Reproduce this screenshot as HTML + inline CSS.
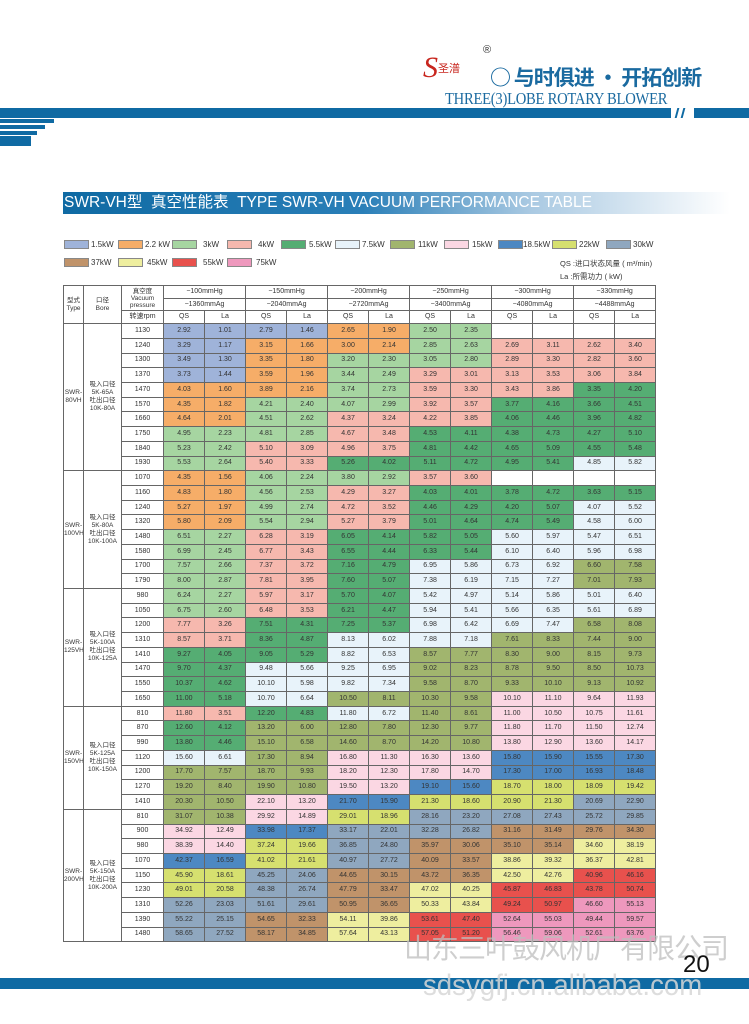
<!DOCTYPE html>
<html><head><meta charset="utf-8">
<style>
*{margin:0;padding:0;box-sizing:border-box}
body{width:749px;height:1024px;background:#fff;position:relative;overflow:hidden;font-family:"Liberation Sans","Noto Sans CJK SC",sans-serif}
.ab{position:absolute}
table{position:absolute;left:63px;top:285px;width:592px;border-collapse:collapse;table-layout:fixed;border:1.5px solid #333}
td{border:1px solid #666;font-size:7px;text-align:center;color:#333;height:14.72px;padding:0;line-height:8px;white-space:nowrap;overflow:hidden}
tr.h td{height:12.7px;background:#fff}
.a{background:#9fb3d9}.b{background:#f6ad68}.c{background:#a6d5a1}.d{background:#f6b8ae}.e{background:#55ad73}.f{background:#e8f3fa}.g{background:#a1b56e}.h{background:#fbd7e3}.i{background:#4d88c2}.j{background:#d6e06f}.k{background:#8fa7bf}.l{background:#c0936a}.m{background:#eeee9f}.n{background:#e8514d}.o{background:#ee98bd}
.sw{position:absolute;width:25px;height:9px;border:1px solid #888}
.lg{position:absolute;font-size:8px;color:#333}
.tv{font-size:6.5px;line-height:8px;vertical-align:middle}
</style></head><body>
<div class="ab" style="left:423px;top:52px;width:60px;height:32px;color:#c8261e;font-family:'Liberation Serif',serif;font-style:italic;font-size:30px;line-height:32px">S<span style="font-size:11px;font-style:normal;font-family:'Noto Sans CJK SC',sans-serif;vertical-align:top">圣潽</span></div>
<div class="ab" style="left:483px;top:44px;font-size:11px;color:#333">®</div>
<div class="ab" style="left:490px;top:64px;font-size:21px;color:#1a6aa0;font-weight:bold;font-family:'Noto Sans CJK SC',sans-serif;line-height:26px;white-space:nowrap;letter-spacing:-1px">○ 与时俱进 · 开拓创新</div>
<div class="ab" style="left:445px;top:89px;font-size:17px;color:#1a6aa0;font-family:'Liberation Serif',serif;white-space:nowrap;transform:scaleX(0.86);transform-origin:left top;letter-spacing:-0.3px">THREE(3)LOBE ROTARY BLOWER</div>
<div class="ab" style="left:0;top:108px;width:671px;height:10px;background:#0f6aa3"></div>
<div class="ab" style="left:694px;top:108px;width:55px;height:10px;background:#0f6aa3"></div>
<div class="ab" style="left:676px;top:108px;width:2px;height:10px;background:#0f6aa3;transform:skewX(-15deg)"></div>
<div class="ab" style="left:682px;top:108px;width:2px;height:10px;background:#0f6aa3;transform:skewX(-15deg)"></div>
<div class="ab" style="left:0;top:119px;width:54px;height:4px;background:#0f6aa3"></div>
<div class="ab" style="left:0;top:125px;width:45px;height:4px;background:#0f6aa3"></div>
<div class="ab" style="left:0;top:131px;width:37px;height:4px;background:#0f6aa3"></div>
<div class="ab" style="left:0;top:136px;width:31px;height:10px;background:#0f6aa3"></div>
<div class="ab" style="left:63px;top:192px;width:667px;height:22px;background:linear-gradient(90deg,#0f6aa3 0%,#2a7fb8 45%,#a9c9e2 70%,#fff 100%)"></div>
<div class="ab" style="left:64px;top:194px;font-size:15.5px;color:#fff;white-space:nowrap;line-height:18px">SWR-VH型&nbsp; 真空性能表&nbsp; TYPE SWR-VH VACUUM PERFORMANCE TABLE</div>
<div class="sw a" style="left:64px;top:240px"></div><div class="lg" style="left:91px;top:240px">1.5kW</div>
<div class="sw b" style="left:118px;top:240px"></div><div class="lg" style="left:145px;top:240px">2.2 kW</div>
<div class="sw c" style="left:172px;top:240px"></div><div class="lg" style="left:203px;top:240px">3kW</div>
<div class="sw d" style="left:227px;top:240px"></div><div class="lg" style="left:258px;top:240px">4kW</div>
<div class="sw e" style="left:281px;top:240px"></div><div class="lg" style="left:309px;top:240px">5.5kW</div>
<div class="sw f" style="left:335px;top:240px"></div><div class="lg" style="left:362px;top:240px">7.5kW</div>
<div class="sw g" style="left:390px;top:240px"></div><div class="lg" style="left:418px;top:240px">11kW</div>
<div class="sw h" style="left:444px;top:240px"></div><div class="lg" style="left:472px;top:240px">15kW</div>
<div class="sw i" style="left:498px;top:240px"></div><div class="lg" style="left:523px;top:240px">18.5kW</div>
<div class="sw j" style="left:552px;top:240px"></div><div class="lg" style="left:579px;top:240px">22kW</div>
<div class="sw k" style="left:606px;top:240px"></div><div class="lg" style="left:633px;top:240px">30kW</div>
<div class="sw l" style="left:64px;top:258px"></div><div class="lg" style="left:91px;top:258px">37kW</div>
<div class="sw m" style="left:118px;top:258px"></div><div class="lg" style="left:147px;top:258px">45kW</div>
<div class="sw n" style="left:172px;top:258px"></div><div class="lg" style="left:203px;top:258px">55kW</div>
<div class="sw o" style="left:227px;top:258px"></div><div class="lg" style="left:256px;top:258px">75kW</div>
<div class="lg" style="left:560px;top:258px;font-size:7.5px">QS :进口状态风量 ( m³/min)</div>
<div class="lg" style="left:560px;top:271px;font-size:7.5px">La :所需功力 ( kW)</div>

<table>
<colgroup><col style="width:20px"><col style="width:38px"><col style="width:42px"><col span="12" style="width:41px"></colgroup>
<tr class="h"><td rowspan="3" class="tv">型式<br>Type</td><td rowspan="3" class="tv">口径<br>Bore</td><td rowspan="2" style="line-height:7px;font-size:6.5px">真空度<br>Vacuum<br>pressure</td><td colspan="2">−100mmHg</td><td colspan="2">−150mmHg</td><td colspan="2">−200mmHg</td><td colspan="2">−250mmHg</td><td colspan="2">−300mmHg</td><td colspan="2">−330mmHg</td></tr>
<tr class="h"><td colspan="2">−1360mmAg</td><td colspan="2">−2040mmAg</td><td colspan="2">−2720mmAg</td><td colspan="2">−3400mmAg</td><td colspan="2">−4080mmAg</td><td colspan="2">−4488mmAg</td></tr>
<tr class="h"><td>转速rpm</td><td>QS</td><td>La</td><td>QS</td><td>La</td><td>QS</td><td>La</td><td>QS</td><td>La</td><td>QS</td><td>La</td><td>QS</td><td>La</td></tr>

<tr><td rowspan="10" class="tv">SWR-<br>80VH</td><td rowspan="10" class="tv">吸入口径<br>5K-65A<br>吐出口径<br>10K-80A</td><td>1130</td><td class="a">2.92</td><td class="a">1.01</td><td class="a">2.79</td><td class="a">1.46</td><td class="b">2.65</td><td class="b">1.90</td><td class="c">2.50</td><td class="c">2.35</td><td></td><td></td><td></td><td></td></tr>
<tr><td>1240</td><td class="a">3.29</td><td class="a">1.17</td><td class="b">3.15</td><td class="b">1.66</td><td class="b">3.00</td><td class="b">2.14</td><td class="c">2.85</td><td class="c">2.63</td><td class="d">2.69</td><td class="d">3.11</td><td class="d">2.62</td><td class="d">3.40</td></tr>
<tr><td>1300</td><td class="a">3.49</td><td class="a">1.30</td><td class="b">3.35</td><td class="b">1.80</td><td class="c">3.20</td><td class="c">2.30</td><td class="c">3.05</td><td class="c">2.80</td><td class="d">2.89</td><td class="d">3.30</td><td class="d">2.82</td><td class="d">3.60</td></tr>
<tr><td>1370</td><td class="a">3.73</td><td class="a">1.44</td><td class="b">3.59</td><td class="b">1.96</td><td class="c">3.44</td><td class="c">2.49</td><td class="d">3.29</td><td class="d">3.01</td><td class="d">3.13</td><td class="d">3.53</td><td class="d">3.06</td><td class="d">3.84</td></tr>
<tr><td>1470</td><td class="b">4.03</td><td class="b">1.60</td><td class="b">3.89</td><td class="b">2.16</td><td class="c">3.74</td><td class="c">2.73</td><td class="d">3.59</td><td class="d">3.30</td><td class="d">3.43</td><td class="d">3.86</td><td class="e">3.35</td><td class="e">4.20</td></tr>
<tr><td>1570</td><td class="b">4.35</td><td class="b">1.82</td><td class="c">4.21</td><td class="c">2.40</td><td class="c">4.07</td><td class="c">2.99</td><td class="d">3.92</td><td class="d">3.57</td><td class="e">3.77</td><td class="e">4.16</td><td class="e">3.66</td><td class="e">4.51</td></tr>
<tr><td>1660</td><td class="b">4.64</td><td class="b">2.01</td><td class="c">4.51</td><td class="c">2.62</td><td class="d">4.37</td><td class="d">3.24</td><td class="d">4.22</td><td class="d">3.85</td><td class="e">4.06</td><td class="e">4.46</td><td class="e">3.96</td><td class="e">4.82</td></tr>
<tr><td>1750</td><td class="c">4.95</td><td class="c">2.23</td><td class="c">4.81</td><td class="c">2.85</td><td class="d">4.67</td><td class="d">3.48</td><td class="e">4.53</td><td class="e">4.11</td><td class="e">4.38</td><td class="e">4.73</td><td class="e">4.27</td><td class="e">5.10</td></tr>
<tr><td>1840</td><td class="c">5.23</td><td class="c">2.42</td><td class="d">5.10</td><td class="d">3.09</td><td class="d">4.96</td><td class="d">3.75</td><td class="e">4.81</td><td class="e">4.42</td><td class="e">4.65</td><td class="e">5.09</td><td class="e">4.55</td><td class="e">5.48</td></tr>
<tr><td>1930</td><td class="c">5.53</td><td class="c">2.64</td><td class="d">5.40</td><td class="d">3.33</td><td class="e">5.26</td><td class="e">4.02</td><td class="e">5.11</td><td class="e">4.72</td><td class="e">4.95</td><td class="e">5.41</td><td class="f">4.85</td><td class="f">5.82</td></tr>

<tr><td rowspan="8" class="tv">SWR-<br>100VH</td><td rowspan="8" class="tv">吸入口径<br>5K-80A<br>吐出口径<br>10K-100A</td><td>1070</td><td class="b">4.35</td><td class="b">1.56</td><td class="c">4.06</td><td class="c">2.24</td><td class="c">3.80</td><td class="c">2.92</td><td class="d">3.57</td><td class="d">3.60</td><td></td><td></td><td></td><td></td></tr>
<tr><td>1160</td><td class="b">4.83</td><td class="b">1.80</td><td class="c">4.56</td><td class="c">2.53</td><td class="d">4.29</td><td class="d">3.27</td><td class="e">4.03</td><td class="e">4.01</td><td class="e">3.78</td><td class="e">4.72</td><td class="e">3.63</td><td class="e">5.15</td></tr>
<tr><td>1240</td><td class="b">5.27</td><td class="b">1.97</td><td class="c">4.99</td><td class="c">2.74</td><td class="d">4.72</td><td class="d">3.52</td><td class="e">4.46</td><td class="e">4.29</td><td class="e">4.20</td><td class="e">5.07</td><td class="f">4.07</td><td class="f">5.52</td></tr>
<tr><td>1320</td><td class="b">5.80</td><td class="b">2.09</td><td class="c">5.54</td><td class="c">2.94</td><td class="d">5.27</td><td class="d">3.79</td><td class="e">5.01</td><td class="e">4.64</td><td class="e">4.74</td><td class="e">5.49</td><td class="f">4.58</td><td class="f">6.00</td></tr>
<tr><td>1480</td><td class="c">6.51</td><td class="c">2.27</td><td class="d">6.28</td><td class="d">3.19</td><td class="e">6.05</td><td class="e">4.14</td><td class="e">5.82</td><td class="e">5.05</td><td class="f">5.60</td><td class="f">5.97</td><td class="f">5.47</td><td class="f">6.51</td></tr>
<tr><td>1580</td><td class="c">6.99</td><td class="c">2.45</td><td class="d">6.77</td><td class="d">3.43</td><td class="e">6.55</td><td class="e">4.44</td><td class="e">6.33</td><td class="e">5.44</td><td class="f">6.10</td><td class="f">6.40</td><td class="f">5.96</td><td class="f">6.98</td></tr>
<tr><td>1700</td><td class="c">7.57</td><td class="c">2.66</td><td class="d">7.37</td><td class="d">3.72</td><td class="e">7.16</td><td class="e">4.79</td><td class="f">6.95</td><td class="f">5.86</td><td class="f">6.73</td><td class="f">6.92</td><td class="g">6.60</td><td class="g">7.58</td></tr>
<tr><td>1790</td><td class="c">8.00</td><td class="c">2.87</td><td class="d">7.81</td><td class="d">3.95</td><td class="e">7.60</td><td class="e">5.07</td><td class="f">7.38</td><td class="f">6.19</td><td class="f">7.15</td><td class="f">7.27</td><td class="g">7.01</td><td class="g">7.93</td></tr>

<tr><td rowspan="8" class="tv">SWR-<br>125VH</td><td rowspan="8" class="tv">吸入口径<br>5K-100A<br>吐出口径<br>10K-125A</td><td>980</td><td class="c">6.24</td><td class="c">2.27</td><td class="d">5.97</td><td class="d">3.17</td><td class="e">5.70</td><td class="e">4.07</td><td class="f">5.42</td><td class="f">4.97</td><td class="f">5.14</td><td class="f">5.86</td><td class="f">5.01</td><td class="f">6.40</td></tr>
<tr><td>1050</td><td class="c">6.75</td><td class="c">2.60</td><td class="d">6.48</td><td class="d">3.53</td><td class="e">6.21</td><td class="e">4.47</td><td class="f">5.94</td><td class="f">5.41</td><td class="f">5.66</td><td class="f">6.35</td><td class="f">5.61</td><td class="f">6.89</td></tr>
<tr><td>1200</td><td class="d">7.77</td><td class="d">3.26</td><td class="e">7.51</td><td class="e">4.31</td><td class="e">7.25</td><td class="e">5.37</td><td class="f">6.98</td><td class="f">6.42</td><td class="f">6.69</td><td class="f">7.47</td><td class="g">6.58</td><td class="g">8.08</td></tr>
<tr><td>1310</td><td class="d">8.57</td><td class="d">3.71</td><td class="e">8.36</td><td class="e">4.87</td><td class="f">8.13</td><td class="f">6.02</td><td class="f">7.88</td><td class="f">7.18</td><td class="g">7.61</td><td class="g">8.33</td><td class="g">7.44</td><td class="g">9.00</td></tr>
<tr><td>1410</td><td class="e">9.27</td><td class="e">4.05</td><td class="e">9.05</td><td class="e">5.29</td><td class="f">8.82</td><td class="f">6.53</td><td class="g">8.57</td><td class="g">7.77</td><td class="g">8.30</td><td class="g">9.00</td><td class="g">8.15</td><td class="g">9.73</td></tr>
<tr><td>1470</td><td class="e">9.70</td><td class="e">4.37</td><td class="f">9.48</td><td class="f">5.66</td><td class="f">9.25</td><td class="f">6.95</td><td class="g">9.02</td><td class="g">8.23</td><td class="g">8.78</td><td class="g">9.50</td><td class="g">8.50</td><td class="g">10.73</td></tr>
<tr><td>1550</td><td class="e">10.37</td><td class="e">4.62</td><td class="f">10.10</td><td class="f">5.98</td><td class="f">9.82</td><td class="f">7.34</td><td class="g">9.58</td><td class="g">8.70</td><td class="g">9.33</td><td class="g">10.10</td><td class="g">9.13</td><td class="g">10.92</td></tr>
<tr><td>1650</td><td class="e">11.00</td><td class="e">5.18</td><td class="f">10.70</td><td class="f">6.64</td><td class="g">10.50</td><td class="g">8.11</td><td class="g">10.30</td><td class="g">9.58</td><td class="h">10.10</td><td class="h">11.10</td><td class="h">9.64</td><td class="h">11.93</td></tr>

<tr><td rowspan="7" class="tv">SWR-<br>150VH</td><td rowspan="7" class="tv">吸入口径<br>5K-125A<br>吐出口径<br>10K-150A</td><td>810</td><td class="d">11.80</td><td class="d">3.51</td><td class="e">12.20</td><td class="e">4.83</td><td class="f">11.80</td><td class="f">6.72</td><td class="g">11.40</td><td class="g">8.61</td><td class="h">11.00</td><td class="h">10.50</td><td class="h">10.75</td><td class="h">11.61</td></tr>
<tr><td>870</td><td class="e">12.60</td><td class="e">4.12</td><td class="g">13.20</td><td class="g">6.00</td><td class="g">12.80</td><td class="g">7.80</td><td class="g">12.30</td><td class="g">9.77</td><td class="h">11.80</td><td class="h">11.70</td><td class="h">11.50</td><td class="h">12.74</td></tr>
<tr><td>990</td><td class="e">13.80</td><td class="e">4.46</td><td class="g">15.10</td><td class="g">6.58</td><td class="g">14.60</td><td class="g">8.70</td><td class="g">14.20</td><td class="g">10.80</td><td class="h">13.80</td><td class="h">12.90</td><td class="h">13.60</td><td class="h">14.17</td></tr>
<tr><td>1120</td><td class="f">15.60</td><td class="f">6.61</td><td class="g">17.30</td><td class="g">8.94</td><td class="h">16.80</td><td class="h">11.30</td><td class="h">16.30</td><td class="h">13.60</td><td class="i">15.80</td><td class="i">15.90</td><td class="i">15.55</td><td class="i">17.30</td></tr>
<tr><td>1200</td><td class="g">17.70</td><td class="g">7.57</td><td class="g">18.70</td><td class="g">9.93</td><td class="h">18.20</td><td class="h">12.30</td><td class="h">17.80</td><td class="h">14.70</td><td class="i">17.30</td><td class="i">17.00</td><td class="i">16.93</td><td class="i">18.48</td></tr>
<tr><td>1270</td><td class="g">19.20</td><td class="g">8.40</td><td class="g">19.90</td><td class="g">10.80</td><td class="h">19.50</td><td class="h">13.20</td><td class="i">19.10</td><td class="i">15.60</td><td class="j">18.70</td><td class="j">18.00</td><td class="j">18.09</td><td class="j">19.42</td></tr>
<tr><td>1410</td><td class="g">20.30</td><td class="g">10.50</td><td class="h">22.10</td><td class="h">13.20</td><td class="i">21.70</td><td class="i">15.90</td><td class="j">21.30</td><td class="j">18.60</td><td class="j">20.90</td><td class="j">21.30</td><td class="k">20.69</td><td class="k">22.90</td></tr>

<tr><td rowspan="9" class="tv">SWR-<br>200VH</td><td rowspan="9" class="tv">吸入口径<br>5K-150A<br>吐出口径<br>10K-200A</td><td>810</td><td class="g">31.07</td><td class="g">10.38</td><td class="h">29.92</td><td class="h">14.89</td><td class="j">29.01</td><td class="j">18.96</td><td class="k">28.16</td><td class="k">23.20</td><td class="k">27.08</td><td class="k">27.43</td><td class="k">25.72</td><td class="k">29.85</td></tr>
<tr><td>900</td><td class="h">34.92</td><td class="h">12.49</td><td class="i">33.98</td><td class="i">17.37</td><td class="k">33.17</td><td class="k">22.01</td><td class="k">32.28</td><td class="k">26.82</td><td class="l">31.16</td><td class="l">31.49</td><td class="l">29.76</td><td class="l">34.30</td></tr>
<tr><td>980</td><td class="h">38.39</td><td class="h">14.40</td><td class="j">37.24</td><td class="j">19.66</td><td class="k">36.85</td><td class="k">24.80</td><td class="l">35.97</td><td class="l">30.06</td><td class="l">35.10</td><td class="l">35.14</td><td class="m">34.60</td><td class="m">38.19</td></tr>
<tr><td>1070</td><td class="i">42.37</td><td class="i">16.59</td><td class="j">41.02</td><td class="j">21.61</td><td class="k">40.97</td><td class="k">27.72</td><td class="l">40.09</td><td class="l">33.57</td><td class="m">38.86</td><td class="m">39.32</td><td class="m">36.37</td><td class="m">42.81</td></tr>
<tr><td>1150</td><td class="j">45.90</td><td class="j">18.61</td><td class="k">45.25</td><td class="k">24.06</td><td class="l">44.65</td><td class="l">30.15</td><td class="l">43.72</td><td class="l">36.35</td><td class="m">42.50</td><td class="m">42.76</td><td class="n">40.96</td><td class="n">46.16</td></tr>
<tr><td>1230</td><td class="j">49.01</td><td class="j">20.58</td><td class="k">48.38</td><td class="k">26.74</td><td class="l">47.79</td><td class="l">33.47</td><td class="m">47.02</td><td class="m">40.25</td><td class="n">45.87</td><td class="n">46.83</td><td class="n">43.78</td><td class="n">50.74</td></tr>
<tr><td>1310</td><td class="k">52.26</td><td class="k">23.03</td><td class="k">51.61</td><td class="k">29.61</td><td class="l">50.95</td><td class="l">36.65</td><td class="m">50.33</td><td class="m">43.84</td><td class="n">49.24</td><td class="n">50.97</td><td class="o">46.60</td><td class="o">55.13</td></tr>
<tr><td>1390</td><td class="k">55.22</td><td class="k">25.15</td><td class="l">54.65</td><td class="l">32.33</td><td class="m">54.11</td><td class="m">39.86</td><td class="n">53.61</td><td class="n">47.40</td><td class="o">52.64</td><td class="o">55.03</td><td class="o">49.44</td><td class="o">59.57</td></tr>
<tr><td>1480</td><td class="k">58.65</td><td class="k">27.52</td><td class="l">58.17</td><td class="l">34.85</td><td class="m">57.64</td><td class="m">43.13</td><td class="n">57.05</td><td class="n">51.20</td><td class="o">56.46</td><td class="o">59.06</td><td class="o">52.61</td><td class="o">63.76</td></tr>
</table>

<div class="ab" style="left:404px;top:930px;font-size:28px;color:rgba(190,190,190,0.75);white-space:nowrap;font-family:'Noto Sans CJK SC',sans-serif;line-height:34px;letter-spacing:-1px">山东三叶鼓风机厂有限公司</div>
<div class="ab" style="left:683px;top:952px;font-size:24px;color:#111;line-height:26px">20</div>
<div class="ab" style="left:0;top:978px;width:749px;height:11px;background:#0f6aa3"></div>
<div class="ab" style="left:423px;top:968px;font-size:30px;color:rgba(215,215,215,0.85);white-space:nowrap;line-height:36px;transform:scaleX(0.92);transform-origin:left top">sdsygfj.cn.alibaba.com</div>
</body></html>
